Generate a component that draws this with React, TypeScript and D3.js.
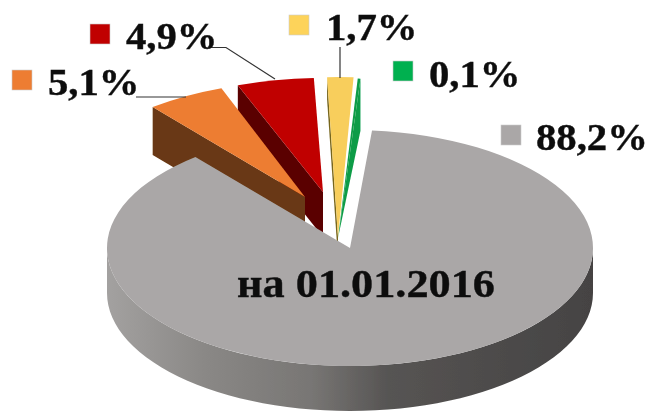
import React from "react";
import * as d3 from "d3";

const categories = ["Прочие", "Категория 2", "Категория 3", "Категория 4", "Категория 5"];
const shares = [88.2, 5.1, 4.9, 1.7, 0.1];
const labels = ["88,2%", "5,1%", "4,9%", "1,7%", "0,1%"];
const caption = "на 01.01.2016";

const topColors = ["#aaa7a7", "#ed7d31", "#c00000", "#f8ce5c", "#0c9c46"];
const wallColors = ["#777", "#693812", "#5a0000", "#77661f", "#0c9c46"];
const markerColors = ["#aaa7a7", "#ed7d31", "#c00000", "#fdd35a", "#00b050"];

// Projection of every exploded slice: apex, radii, first angle (deg), angle stretch, wall depth
const cxs = [350, 305, 323, 338, 338];
const cys = [248, 197, 192, 237, 238];
const rxs = [243, 241, 241, 241, 241];
const rys = [118, 116, 114, 160, 160];
const starts = [5.2, -39.2, -20.7, -2.6, 4.7];
const stretch = [0.993, 1.03, 1.05, 1.03, 1.8];
const depths = [45, 48, 45, 22, 52];
const paintOrder = [4, 3, 2, 1, 0];

const markerX = [501, 12, 90, 289, 393];
const markerY = [125, 70, 24, 15, 61];
const labelX = [536, 48, 126, 326, 429];
const labelY = [150, 95, 49, 40, 87];

const rad = (d: number) => (d * Math.PI) / 180;

export default function App() {
  const pie = d3.pie<number>().value((d) => d).sort(null);
  const slices = pie(shares).map((p, i) => {
    const sweep = (p.endAngle - p.startAngle) * stretch[i];
    const a0 = rad(starts[i]);
    return { i, a0, a1: a0 + sweep };
  });
  const pt = (i: number, a: number, dy = 0): [number, number] => [
    cxs[i] + rxs[i] * Math.sin(a),
    cys[i] - rys[i] * Math.cos(a) + dy,
  ];
  const arc = d3.arc<{ a0: number; a1: number; r: number }>()
    .innerRadius(0)
    .outerRadius((d) => d.r)
    .startAngle((d) => d.a0)
    .endAngle((d) => d.a1);
  const poly = d3.line();

  // outer wall of the large slice: front half of the ellipse
  const front = d3.range(90, 271, 3).map(rad);
  const wallOuter = poly([
    ...front.map((a) => pt(0, a)),
    ...front.slice().reverse().map((a) => pt(0, a, depths[0])),
  ] as [number, number][]) + "Z";

  const sideWall = (i: number, a: number, triangular: boolean) => {
    const apex: [number, number] = [cxs[i], cys[i]];
    const c = pt(i, a);
    const cd = pt(i, a, depths[i]);
    const pts: [number, number][] = triangular
      ? [apex, c, cd]
      : [apex, c, cd, [apex[0], apex[1] + depths[i]]];
    return poly(pts) + "Z";
  };

  const serif = "'Liberation Serif', 'Times New Roman', serif";
  const textProps = {
    fontFamily: serif,
    fontWeight: "bold",
    fill: "#111",
    stroke: "#111",
    strokeWidth: 0.4,
  };

  return (
    <svg
      width={650}
      height={412}
      viewBox="0 0 650 412"
      style={{ position: "absolute", left: 0, top: 0, background: "#fff" }}
      data-categories={categories.join("|")}
    >
      <defs>
        <linearGradient id="wall" gradientUnits="userSpaceOnUse" x1={107} x2={593} y1={0} y2={0}>
          <stop offset="0" stopColor="#a3a1a0" />
          <stop offset="0.2" stopColor="#8a8886" />
          <stop offset="0.42" stopColor="#787674" />
          <stop offset="0.58" stopColor="#565453" />
          <stop offset="1" stopColor="#454343" />
        </linearGradient>
        <filter id="soft" x="-5%" y="-5%" width="110%" height="110%">
          <feGaussianBlur stdDeviation="0.5" />
        </filter>
      </defs>
      <g filter="url(#soft)">
        {paintOrder.map((i) => {
          const s = slices[i];
          const r = rxs[i];
          const faceT = `translate(${cxs[i]},${cys[i]}) scale(1,${rys[i] / rxs[i]})`;
          return (
            <g key={i}>
              {i === 0 && <path d={wallOuter} fill="url(#wall)" />}
              {i === 1 || i === 2 || i === 3 ? (
                <path d={sideWall(i, s.a0, false)} fill={wallColors[i]} />
              ) : null}
              {i === 4 && <path d={sideWall(i, s.a1, true)} fill={wallColors[i]} />}
              <path d={arc({ a0: s.a0, a1: s.a1, r }) as string} transform={faceT} fill={topColors[i]} />
            </g>
          );
        })}
        <g stroke="#333" strokeWidth={1.2} fill="none">
          <path d={poly([[136, 97], [186, 97]] as [number, number][]) as string} />
          <path d={poly([[210, 47.5], [226, 47.5], [275, 79]] as [number, number][]) as string} />
          <path d={poly([[340, 47], [340, 78]] as [number, number][]) as string} />
        </g>
        {labels.map((l, i) => (
          <g key={l}>
            <rect x={markerX[i]} y={markerY[i]} width={20} height={20} fill={markerColors[i]} stroke="#ccc" strokeWidth={0.6} />
            <text transform={`translate(${labelX[i]},${labelY[i]}) scale(1.1,1)`} fontSize={37} {...textProps}>
              {l}
            </text>
          </g>
        ))}
        <text transform="translate(366,297) scale(1.107,1)" textAnchor="middle" fontSize={40} {...textProps}>
          {caption}
        </text>
      </g>
    </svg>
  );
}
